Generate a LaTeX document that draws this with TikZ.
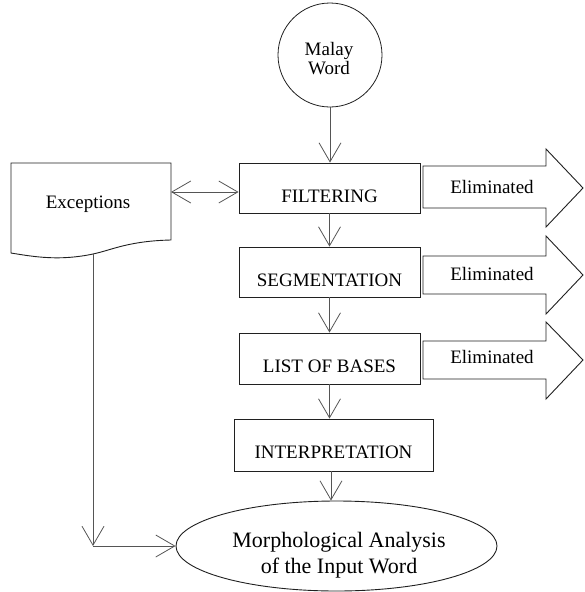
\documentclass[tikz,border=0pt]{standalone}
\usepackage{fontspec}
\setmainfont{Liberation Serif}
\usetikzlibrary{arrows.meta,shapes.geometric}

\definecolor{edge}{HTML}{202020}
\definecolor{link}{HTML}{555555}

\tikzset{
  txt/.style={font=\fontsize{19}{19}\selectfont, inner sep=0pt},
  stepbox/.style={draw=edge, line width=0.9pt, rectangle, inner sep=0pt,
    minimum height=50pt, text height=39pt, text depth=11pt,
    font=\fontsize{19}{19}\selectfont},
  arr/.style={draw=link, line width=0.8pt,
    -{Straight Barb[length=19pt,width=22pt,line width=0.8pt]}},
  dblarr/.style={draw=link, line width=0.8pt,
    {Straight Barb[length=19pt,width=22pt,line width=0.8pt]}-{Straight Barb[length=19pt,width=22pt,line width=0.8pt]}},
  elim/.style={draw=edge, line width=0.9pt, line join=miter},
}

\begin{document}
\begin{tikzpicture}[x=1pt,y=-1pt]
\useasboundingbox (0,0) rectangle (584,592);

% input word
\node[circle, draw=edge, line width=0.8pt, minimum size=104pt, inner sep=0pt] (word) at (330,55) {};
\node[txt, align=center, font=\fontsize{19}{19}\selectfont] (wordtxt) at (329,58.5) {Malay\\Word};

% processing steps
\node[stepbox, minimum width=181pt] (filter) at (329.5,188) {FILTERING};
\node[stepbox, minimum width=181pt] (seg)    at (329.5,272) {SEGMENTATION};
\node[stepbox, minimum width=181pt, minimum height=51pt, text depth=12pt] (bases) at (329.5,358.5) {LIST OF BASES};
\node[stepbox, minimum width=199pt, minimum height=52pt, text depth=13pt] (interp) at (333.5,445) {INTERPRETATION};

% result
\node[ellipse, draw=edge, line width=0.9pt, minimum width=321pt, minimum height=90pt, inner sep=0pt] (result) at (336.5,546) {};
\node[align=center, inner sep=0pt, font=\fontsize{22}{26}\selectfont] (resulttxt) at (339,555) {Morphological Analysis\\of the Input Word};

% exceptions document
\draw[draw=edge, line width=0.9pt] (11,163) -- (171,163) -- (171,240)
  .. controls (128,241) and (112,250) .. (93,254)
  .. controls (60,261) and (35,257) .. (11,253) -- cycle;
\node[txt, anchor=base] (exc) at (88,208) {Exceptions};
\coordinate (excR) at (171,192);
\coordinate (excB) at (93,254);

% eliminated outputs
\draw[elim] (423,166) -- (546,166) -- (546,149) -- (583,188) -- (546,227) -- (546,208) -- (423,208) -- cycle;
\node[txt, anchor=base] (elim1) at (492,193) {Eliminated};
\draw[elim] (423,256) -- (546,256) -- (546,236) -- (583,275) -- (546,314) -- (546,294) -- (423,294) -- cycle;
\node[txt, anchor=base] (elim2) at (492,280) {Eliminated};
\draw[elim] (423,341) -- (546,341) -- (546,322) -- (583,360) -- (546,399) -- (546,379) -- (423,379) -- cycle;
\node[txt, anchor=base] (elim3) at (492,363) {Eliminated};

% connectors
\draw[arr] (word.south) -- (word.south |- filter.north);
\draw[arr] (filter.south) -- (seg.north);
\draw[arr] (seg.south) -- (bases.north);
\draw[arr] (bases.south) -- (bases.south |- interp.north);
\draw[arr] ([xshift=-2.5pt]interp.south) -- ([xshift=-2.5pt]interp.south |- result.north);
\draw[dblarr] (excR) -- (excR -| filter.west);
\coordinate (bend) at (excB |- result.west);
\draw[arr] (excB) -- (bend);
\draw[arr] (bend) -- (result.west);
\end{tikzpicture}
\end{document}
